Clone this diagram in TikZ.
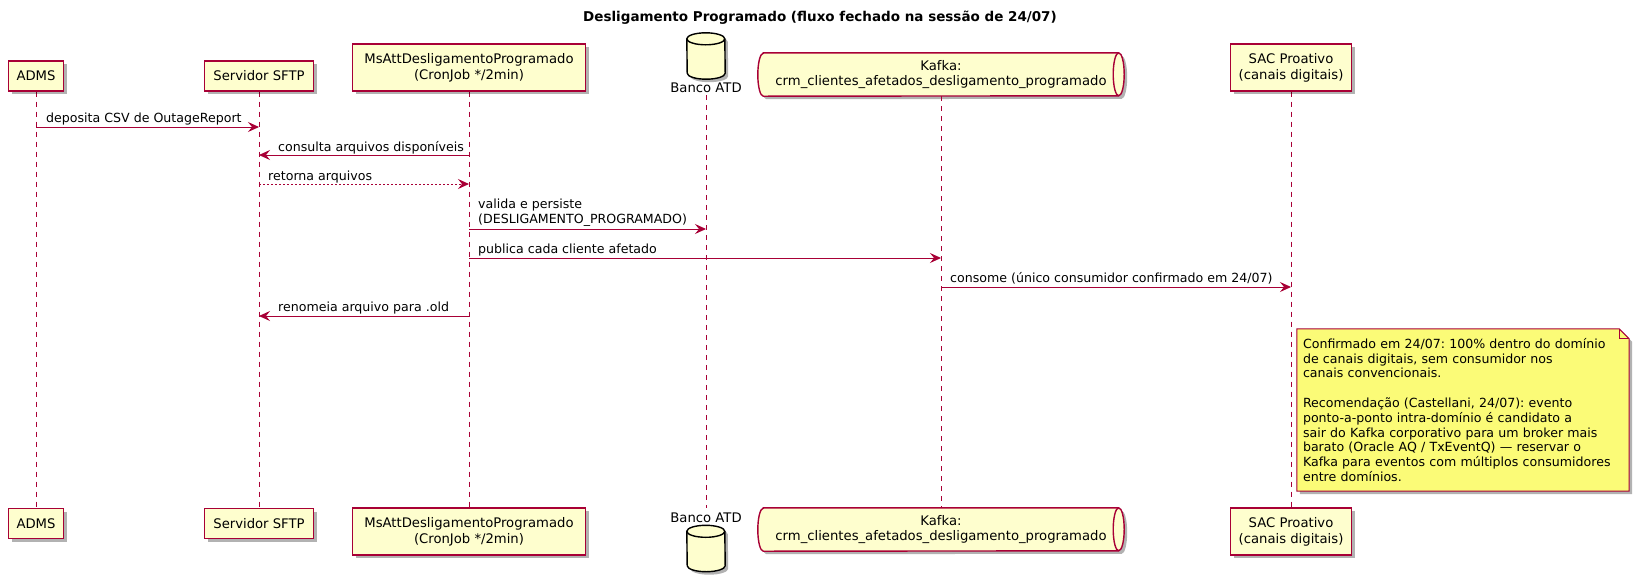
\documentclass[tikz,border=0pt]{standalone}
\usepackage{fontspec}
\setmainfont{DejaVu Sans}
\usetikzlibrary{arrows.meta,shapes.geometric,shadows,backgrounds}
\definecolor{pb}{HTML}{A80036}
\definecolor{pf}{HTML}{FEFECE}
\definecolor{nf}{HTML}{FBFB77}
\frenchspacing
\begin{document}
\begin{tikzpicture}[x=1pt,y=-1pt,
  shadowed/.style={drop shadow={shadow xshift=3pt,shadow yshift=-3pt,opacity=0.3,fill=black}},
  part/.style={draw=pb,fill=pf,line width=1.4pt,shadowed,inner sep=0pt,align=center,font=\fontsize{13.2}{16}\selectfont},
  part1/.style={part,minimum height=30pt},
  part2/.style={part,minimum height=47pt},
  qnode/.style={inner sep=0pt,minimum width=366pt,minimum height=43pt,align=center,font=\fontsize{13.2}{15.5}\selectfont},
  qshape/.style={draw=pb,fill=pf,line width=1.4pt},
  dbnode/.style={inner sep=0pt,minimum width=38pt,minimum height=46pt},
  dbshape/.style={draw=black,fill=pf,line width=1.4pt},
  life/.style={draw=pb,line width=1pt,dash pattern=on 5pt off 5pt},
  msg/.style={draw=pb,line width=1pt,-{Stealth[length=11pt,width=10pt,inset=4pt]}},
  reply/.style={msg,dash pattern=on 2pt off 2pt},
  lbl/.style={inner sep=0pt,anchor=base west,font=\fontsize{12.6}{15}\selectfont},
  dblabel/.style={inner sep=0pt,anchor=base,font=\fontsize{13.2}{16}\selectfont},
  notebox/.style={inner xsep=6pt,inner ysep=0pt,minimum width=332pt,minimum height=162pt,text width=320pt,align=left,font=\fontsize{12.6}{14.8}\selectfont},
  noteshape/.style={fill=nf,draw=pb,line width=1pt},
  titlestyle/.style={inner sep=0pt,font=\fontsize{13.5}{16}\selectfont\bfseries}
]
\path[use as bounding box] (0,0) rectangle (1640,582);

% title
\node[titlestyle] (title) at (820,18) {Desligamento Programado (fluxo fechado na sessão de 24/07)};

% top participants
\node[part1,minimum width=55pt] (admsT) at (36,76) {ADMS};
\node[part1,minimum width=109pt] (sftpT) at (259,76) {Servidor SFTP};
\node[part2,minimum width=233pt] (msT) at (469,67.5) {MsAttDesligamentoProgramado\\(CronJob */2min)};
\node[dbnode] (dbT) at (706,56) {};
\node[dblabel] (dbTl) at (706,92) {Banco ATD};
\node[qnode] (kT) at (941,74.5) {Kafka:\\crm\_clientes\_afetados\_desligamento\_programado};
\node[part2,minimum width=121pt] (sacT) at (1291,67.5) {SAC Proativo\\(canais digitais)};

% bottom participants
\node[part1,minimum width=55pt] (admsB) at (36,523.5) {ADMS};
\node[part1,minimum width=109pt] (sftpB) at (259,523.5) {Servidor SFTP};
\node[part2,minimum width=233pt] (msB) at (469,531.5) {MsAttDesligamentoProgramado\\(CronJob */2min)};
\node[dblabel] (dbBl) at (706,522) {Banco ATD};
\node[dbnode] (dbB) at (706,548.5) {};
\node[qnode] (kB) at (941,529.5) {Kafka:\\crm\_clientes\_afetados\_desligamento\_programado};
\node[part2,minimum width=121pt] (sacB) at (1291,531.5) {SAC Proativo\\(canais digitais)};

% note
\node[notebox] (note) at (1463,410) {Confirmado em 24/07: 100\% dentro do domínio\\de canais digitais, sem consumidor nos\\canais convencionais.\\[14.8pt]Recomendação (Castellani, 24/07): evento\\ponto-a-ponto intra-domínio é candidato a\\sair do Kafka corporativo para um broker mais\\barato (Oracle AQ / TxEventQ) — reservar o\\Kafka para eventos com múltiplos consumidores\\entre domínios.};

\begin{pgfonlayer}{background}
  \fill[white] (0,0) rectangle (1640,582);
  % queue shapes
  \foreach \q in {kT,kB}{
    \path[qshape,shadowed] ([xshift=5.5pt]\q.north west) -- ([xshift=-5.5pt]\q.north east)
      arc[start angle=90,end angle=-90,x radius=5.5pt,y radius=21.5pt]
      -- ([xshift=5.5pt]\q.south west)
      arc[start angle=270,end angle=90,x radius=5.5pt,y radius=21.5pt] -- cycle;
    \draw[qshape,fill=none] ([xshift=-5.5pt]\q.north east)
      arc[start angle=90,end angle=270,x radius=5.5pt,y radius=21.5pt];
  }
  % database cylinders
  \foreach \d in {dbT,dbB}{
    \path[dbshape,shadowed] ([yshift=-6pt]\d.north west)
      arc[start angle=180,end angle=0,x radius=19pt,y radius=6pt]
      -- ([yshift=6pt]\d.south east)
      arc[start angle=0,end angle=-180,x radius=19pt,y radius=6pt] -- cycle;
    \draw[dbshape,fill=none] ([yshift=-6pt]\d.north west)
      arc[start angle=180,end angle=360,x radius=19pt,y radius=6pt];
  }
  % note shape
  \path[noteshape,shadowed] (note.north west) -- ([xshift=-10pt]note.north east) -- ([yshift=-10pt]note.north east) -- (note.south east) -- (note.south west) -- cycle;
  \draw[noteshape,fill=none] ([xshift=-10pt]note.north east) -- ([xshift=-10pt,yshift=-10pt]note.north east) -- ([yshift=-10pt]note.north east);
  % lifelines
  \draw[life] (admsT) -- (admsB);
  \draw[life] (sftpT) -- (sftpB);
  \draw[life] (msT) -- (msB);
  \draw[life,shorten <=3pt,shorten >=4pt] (dbTl) -- (dbBl);
  \draw[life] (kT) -- (kB);
  \draw[life] (sacT) -- (sacB);
\end{pgfonlayer}

% messages
\coordinate (y1) at (0,127);
\coordinate (y2) at (0,155);
\coordinate (y3) at (0,184);
\coordinate (y4) at (0,229);
\coordinate (y5) at (0,258);
\coordinate (y6) at (0,287);
\coordinate (y7) at (0,316);

\draw[msg] (admsT |- y1) -- (sftpT |- y1);
\node[lbl] (l1) at (46,122) {deposita CSV de OutageReport};

\draw[msg] (msT |- y2) -- (sftpT |- y2);
\node[lbl] (l2) at (278,151) {consulta arquivos disponíveis};

\draw[reply] (sftpT |- y3) -- (msT |- y3);
\node[lbl] (l3) at (268,180) {retorna arquivos};

\draw[msg] (msT |- y4) -- (dbT |- y4);
\node[lbl] (l4a) at (478,208) {valida e persiste};
\node[lbl] (l4b) at (478,223) {(DESLIGAMENTO\_PROGRAMADO)};

\draw[msg] (msT |- y5) -- (kT |- y5);
\node[lbl] (l5) at (478,253) {publica cada cliente afetado};

\draw[msg] (kT |- y6) -- (sacT |- y6);
\node[lbl] (l6) at (950,282) {consome (único consumidor confirmado em 24/07)};

\draw[msg] (msT |- y7) -- (sftpT |- y7);
\node[lbl] (l7) at (278,311) {renomeia arquivo para .old};
\end{tikzpicture}
\end{document}
